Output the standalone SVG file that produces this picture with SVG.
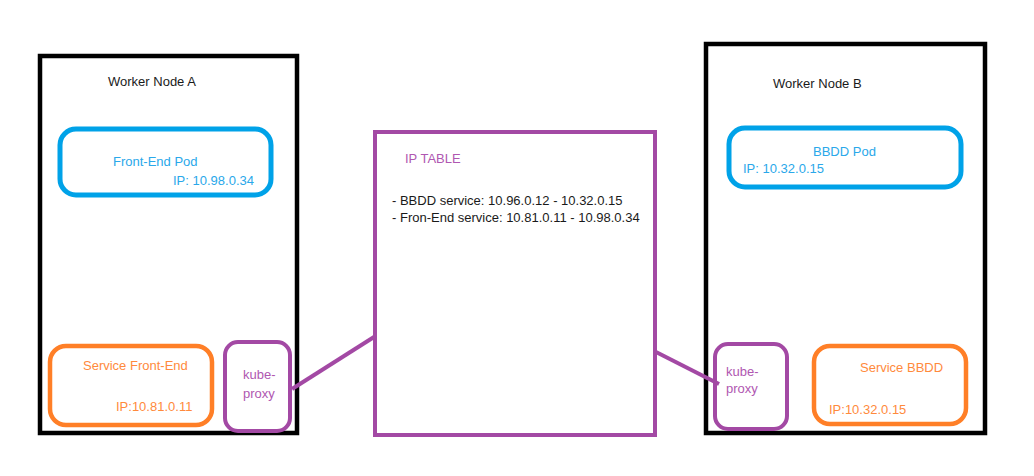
<svg xmlns="http://www.w3.org/2000/svg" width="1034" height="476" viewBox="0 0 1034 476">
<style>
text{font-family:"Liberation Sans",Arial,sans-serif;font-size:13px}
.node{fill:none;stroke:#000;stroke-width:4.5}
.pod{fill:none;stroke:#00A2E8;stroke-width:5}
.svc{fill:none;stroke:#FF7F27;stroke-width:4.5}
.kp{fill:none;stroke:#A349A4;stroke-width:4}
.tb{fill:#1A1A1A}
.tblue{fill:#2AA8EA}
.torange{fill:#FF8A3C}
.tpurple{fill:#B057B1}
.conn{stroke:#A349A4;stroke-width:4;fill:none}
</style>
<rect width="1034" height="476" fill="#fff"/>
<g id="worker-node-a">
<rect class="node" x="40" y="56" width="257" height="377"/>
<text class="tb" x="108" y="86">Worker Node A</text>
</g>
<g id="front-end-pod">
<rect class="pod" x="60" y="129" width="211" height="66" rx="16"/>
<text class="tblue" x="113" y="166">Front-End Pod</text>
<text class="tblue" x="173" y="185">IP: 10.98.0.34</text>
</g>
<g id="service-front-end">
<rect class="svc" x="50" y="346" width="162" height="79" rx="16"/>
<text class="torange" x="83" y="370">Service Front-End</text>
<text class="torange" x="116" y="411">IP:10.81.0.11</text>
</g>
<g id="kube-proxy-a">
<rect class="kp" x="225" y="342" width="65" height="89" rx="13"/>
<text class="tpurple" x="243" y="379">kube-</text>
<text class="tpurple" x="243" y="398">proxy</text>
</g>
<g id="ip-table">
<rect class="kp" x="375" y="132" width="280" height="303"/>
<text class="tpurple" x="405" y="163">IP TABLE</text>
<text class="tb" x="392" y="205">- BBDD service: 10.96.0.12 - 10.32.0.15</text>
<text class="tb" x="392" y="222">- Fron-End service: 10.81.0.11 - 10.98.0.34</text>
</g>
<g id="worker-node-b">
<rect class="node" x="706" y="44" width="279" height="389"/>
<text class="tb" x="773" y="88">Worker Node B</text>
</g>
<g id="bbdd-pod">
<rect class="pod" x="729" y="128" width="232" height="59" rx="16"/>
<text class="tblue" x="813" y="156">BBDD Pod</text>
<text class="tblue" x="743" y="173">IP: 10.32.0.15</text>
</g>
<g id="kube-proxy-b">
<rect class="kp" x="715" y="344" width="72" height="85" rx="13"/>
<text class="tpurple" x="726" y="376">kube-</text>
<text class="tpurple" x="726" y="393">proxy</text>
</g>
<g id="service-bbdd">
<rect class="svc" x="814" y="346" width="152" height="78" rx="16"/>
<text class="torange" x="860" y="372">Service BBDD</text>
<text class="torange" x="829" y="414">IP:10.32.0.15</text>
</g>
<g id="connectors">
<line class="conn" x1="292" y1="389" x2="374" y2="337"/>
<line class="conn" x1="656" y1="352" x2="719" y2="384"/>
</g>
</svg>
